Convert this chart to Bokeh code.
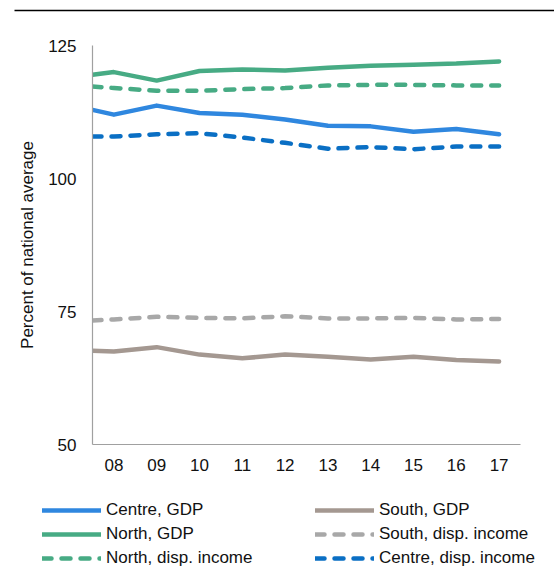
from bokeh.plotting import figure
from bokeh.models import Range1d, FixedTicker, Legend, LegendItem, BoxAnnotation
from bokeh.layouts import column
from bokeh.embed import file_html
from bokeh.resources import INLINE

# ---- data ----
periods = [2007.5, 2008, 2009, 2010, 2011, 2012, 2013, 2014, 2015, 2016, 2017]
tick_years = [2008, 2009, 2010, 2011, 2012, 2013, 2014, 2015, 2016, 2017]
tick_labels = ["08", "09", "10", "11", "12", "13", "14", "15", "16", "17"]
y_ticks = [50, 75, 100, 125]

centre_gdp = [112.9, 112.0, 113.7, 112.3, 112.0, 111.1, 109.9, 109.8, 108.8, 109.3, 108.3]
north_gdp = [119.5, 120.0, 118.4, 120.2, 120.5, 120.3, 120.8, 121.2, 121.4, 121.6, 122.0]
north_disp = [117.3, 117.0, 116.5, 116.5, 116.8, 117.0, 117.5, 117.6, 117.6, 117.5, 117.5]
south_gdp = [67.6, 67.5, 68.3, 66.9, 66.2, 66.9, 66.5, 66.0, 66.5, 65.9, 65.6]
south_disp = [73.3, 73.5, 74.0, 73.8, 73.7, 74.1, 73.7, 73.7, 73.8, 73.5, 73.6]
centre_disp = [107.9, 107.9, 108.3, 108.5, 107.7, 106.7, 105.6, 105.9, 105.5, 106.0, 106.0]

series = [
    ("Centre, GDP", centre_gdp, "#2f87df", "solid"),
    ("North, GDP", north_gdp, "#47ab84", "solid"),
    ("North, disp. income", north_disp, "#47ab84", "9 10"),
    ("South, GDP", south_gdp, "#a49891", "solid"),
    ("South, disp. income", south_disp, "#a8a8a8", "9 10"),
    ("Centre, disp. income", centre_disp, "#0a6fc4", "9 10"),
]

FONT = "Liberation Sans"
LW = 4.5

# ---- header rule (a thin band in a pixel-scaled strip) ----
p_top = figure(width=554, height=12, output_backend="svg", toolbar_location=None,
               x_axis_type=None, y_axis_type=None,
               x_range=Range1d(0, 554), y_range=Range1d(0, 12),
               min_border_left=0, min_border_right=0, min_border_top=0, min_border_bottom=0,
               frame_align=False)
p_top.outline_line_color = None
p_top.add_layout(BoxAnnotation(left=14, right=554, bottom=1.3, top=2.7,
                               fill_color="black", fill_alpha=1.0, line_color=None))

# ---- main chart ----
p = figure(width=554, height=468, output_backend="svg", toolbar_location=None,
           x_range=Range1d(2007.5, 2017.5), y_range=Range1d(50, 125),
           min_border_left=92, min_border_right=34, min_border_top=33, min_border_bottom=36,
           frame_align=False)
p.outline_line_color = None
p.grid.visible = False

for name, vals, color, dash in series:
    p.line(periods, vals, line_color=color, line_width=LW, line_dash=dash,
           line_join="round", line_cap="round")

p.yaxis.ticker = FixedTicker(ticks=y_ticks)
p.xaxis.ticker = FixedTicker(ticks=tick_years)
p.xaxis.major_label_overrides = {y: l for y, l in zip(tick_years, tick_labels)}
for ax in (p.xaxis[0], p.yaxis[0]):
    ax.axis_line_color = "#a0a0a0"
    ax.axis_line_width = 1.2
    ax.major_tick_line_color = None
    ax.minor_tick_line_color = None
    ax.major_tick_out = 0
    ax.major_tick_in = 0
    ax.minor_tick_out = 0
    ax.major_label_text_font = FONT
    ax.major_label_text_font_size = "17px"
    ax.major_label_text_color = "#111111"
p.yaxis.major_label_standoff = 16
p.xaxis.major_label_standoff = 14
p.yaxis.axis_label = "Percent of national average"
p.yaxis.axis_label_text_font = FONT
p.yaxis.axis_label_text_font_size = "17px"
p.yaxis.axis_label_text_font_style = "normal"
p.yaxis.axis_label_text_color = "#111111"
p.yaxis.axis_label_standoff = 8

# ---- legend panel ----
p_leg = figure(width=554, height=89, output_backend="svg", toolbar_location=None,
               x_axis_type=None, y_axis_type=None,
               x_range=Range1d(0, 1), y_range=Range1d(0, 1),
               min_border_left=0, min_border_right=0, min_border_top=0, min_border_bottom=0,
               frame_align=False)
p_leg.outline_line_color = None

nan = float("nan")
items = []
for name, vals, color, dash in series:
    # legend proxy: a single undefined point, so nothing is drawn in the panel itself
    r = p_leg.line([nan], [nan], line_color=color, line_width=LW, line_dash=dash,
                   line_join="round", line_cap="round")
    items.append(LegendItem(label=name, renderers=[r]))

def add_legend(its, x, y):
    lg = Legend(items=its, location=(x, y), orientation="vertical",
                glyph_width=59, glyph_height=20, label_height=20, spacing=4,
                label_standoff=5, padding=0, margin=0,
                border_line_color=None, background_fill_alpha=0,
                label_text_font=FONT, label_text_font_size="17px",
                label_text_color="#111111")
    p_leg.add_layout(lg, "center")

add_legend(items[:3], 42, 1)
add_legend(items[3:], 315, 1)

layout = column(p_top, p, p_leg, spacing=0)
open("out.html", "w").write(file_html(layout, INLINE))
